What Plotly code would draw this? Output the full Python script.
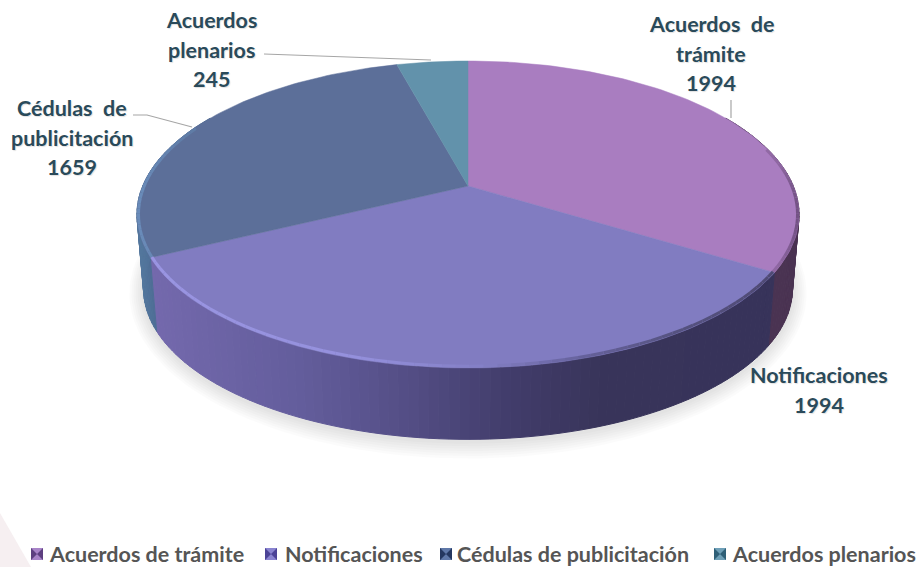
import numpy as np
import plotly.graph_objects as go

# --- data ---
categories = ["Acuerdos de trámite", "Notificaciones", "Cédulas de publicitación", "Acuerdos plenarios"]
values = [1994, 1994, 1659, 245]
label_lines = [["Acuerdos  de", "trámite"], ["Notificaciones"], ["Cédulas  de", "publicitación"], ["Acuerdos", "plenarios"]]

# --- styles ---
top_colors = ["#a97dc0", "#817cc1", "#5c6f99", "#6292ab"]
legend_dark = ["#5d3f80", "#4c4396", "#24375f", "#2f6078"]
legend_light = ["#a884c8", "#8a84d0", "#5f78a8", "#6fa0b8"]
label_color = "#2a4a5a"
legend_color = "#555555"
FONT = "Lato, Carlito, Calibri, sans-serif"

# --- perspective geometry of the disc (pixel canvas) ---
W, H = 919, 567
CX, CY, A, B, K = 468, 186, 325.3, 148.2, 0.1857
DEPTH, BOTTOM_SCALE = 75, 0.98


def project(theta, grow=0.0, scale=1.0, dy=0.0):
    t = np.radians(theta)
    u, v = np.sin(t), np.cos(t)
    w = 1 + K * v
    return CX + (A * scale + grow) * u / w, CY + dy - (B * scale + grow) * v / w


def hex_rgb(c):
    return np.array([int(c[i:i + 2], 16) for i in (1, 3, 5)], float)


def ramp(x, stops):
    xs = [s[0] for s in stops]
    chans = [np.interp(x, xs, [hex_rgb(s[1])[i] for s in stops]) for i in range(3)]
    return "rgb(%d,%d,%d)" % tuple(int(round(c)) for c in chans)


fractions = np.array(values) / sum(values)
edges = np.concatenate([[0], np.cumsum(fractions) * 360])

fig = go.Figure()


def poly(xs, ys, fill, line=None, width=0.0):
    fig.add_trace(go.Scatter(x=xs, y=ys, mode="lines", fill="toself", fillcolor=fill,
                             line=dict(color=line or fill, width=width),
                             hoverinfo="skip", showlegend=False))


# soft shadow below the disc
all_t = np.linspace(0, 360, 181)
for grow in range(14, 0, -2):
    x, y = project(all_t, grow=grow, scale=BOTTOM_SCALE, dy=DEPTH + 2)
    poly(x, y, "rgba(0,0,0,0.016)")

# side wall, shaded by horizontal position
wall_stops = [
    [(770, "#4a3352"), (800, "#4a3352")],
    [(150, "#7469ad"), (300, "#635d9c"), (400, "#554f87"), (500, "#433e6d"), (600, "#38345a"), (770, "#37335a")],
    [(138, "#55799f"), (155, "#4d6c94")],
    [(398, "#55799f"), (468, "#55799f")],
]
for i in range(3):
    lo, hi = edges[i], edges[i + 1]
    lo, hi = max(lo, 60), min(hi, 300)
    n = int(np.ceil((hi - lo) / 1.5))
    th = np.linspace(lo, hi, n + 1)
    for a, b in zip(th[:-1], th[1:]):
        seg = np.array([a, b])
        xt, yt = project(seg)
        xb, yb = project(seg[::-1], scale=BOTTOM_SCALE, dy=DEPTH)
        col = ramp((xt.mean() + xb.mean()) / 2, wall_stops[i])
        poly(np.r_[xt, xb, xt[0]], np.r_[yt, yb, yt[0]], col, col, 1)

# top faces: one wedge per value
for i, cat in enumerate(categories):
    th = np.linspace(edges[i], edges[i + 1], 90)
    x, y = project(th)
    fig.add_trace(go.Scatter(x=np.r_[CX, x, CX], y=np.r_[CY, y, CY], mode="lines", fill="toself",
                             fillcolor=top_colors[i], line=dict(color=top_colors[i], width=0.5),
                             name=cat, text=[f"{cat}: {values[i]}"] * 92, hoverinfo="text", showlegend=False))

# bevelled rim
rim_stops = [
    [(690, "#a97dc0"), (780, "#8d66a0"), (800, "#6f4f80")],
    [(150, "#9a95e2"), (350, "#9591dd"), (480, "#8480c6"), (580, "#66629c"), (680, "#55527f"), (770, "#4f4a74")],
    [(138, "#6a8cba"), (190, "#5f7ca6"), (300, "#5c6f99")],
]
for i in range(3):
    lo, hi = max(edges[i], 75), min(edges[i + 1], 295)
    th = np.linspace(lo, hi, int((hi - lo) / 2) + 2)
    for a, b in zip(th[:-1], th[1:]):
        x, y = project(np.array([a, b]), grow=-1.5)
        fig.add_trace(go.Scatter(x=x, y=y, mode="lines", hoverinfo="skip", showlegend=False,
                                 line=dict(color=ramp(x.mean(), rim_stops[i]), width=3)))

# legend row
legend_x = [37, 271, 446, 720]
legend_y = 554
for i, cat in enumerate(categories):
    fig.add_trace(go.Scatter(x=[legend_x[i]], y=[legend_y], mode="markers", hoverinfo="skip", showlegend=False,
                             marker=dict(symbol="square", size=12, color=legend_light[i], line=dict(width=0))))
    fig.add_trace(go.Scatter(x=[legend_x[i]], y=[legend_y], mode="markers", hoverinfo="skip", showlegend=False,
                             marker=dict(symbol="bowtie", size=12, color=legend_dark[i], line=dict(width=0))))

annotations = []
legend_text_x = [47, 282.5, 455, 730]
for i, cat in enumerate(categories):
    annotations.append(dict(x=legend_text_x[i], y=legend_y, text=cat, showarrow=False, xref="x", yref="y",
                            xanchor="left", yanchor="middle",
                            font=dict(family=FONT, size=21.5, color=legend_color, weight="bold")))

# data labels, one text line per row so the row pitch follows the reference
label_anchor = [(711, 24), (819, 375), (72, 108), (211, 20)]
LINE_STEP = 29.5
for i, lines in enumerate(label_lines):
    rows = lines + [str(values[i])]
    for j, row in enumerate(rows):
        annotations.append(dict(x=label_anchor[i][0], y=label_anchor[i][1] + j * LINE_STEP, text=row,
                                showarrow=False, xref="x", yref="y", xanchor="center", yanchor="middle",
                                font=dict(family=FONT, size=21.5, color=label_color, weight="bold",
                                          shadow="1px 1px 1px rgba(0,0,0,0.12)")))

shapes = [
    dict(type="path", path="M 0 513 L 31 567 L 0 567 Z", fillcolor="#f6eff1", line=dict(width=0),
         xref="x", yref="y", layer="below"),
    dict(type="path", path="M 264 54 L 431 60", line=dict(color="#a6a6a6", width=1.2), xref="x", yref="y"),
    dict(type="path", path="M 133 115 L 147 115 L 192 127", line=dict(color="#a6a6a6", width=1.2), xref="x", yref="y"),
    dict(type="path", path="M 731 100 L 731 118", line=dict(color="#a6a6a6", width=1.2), xref="x", yref="y"),
]

fig.update_layout(
    width=W, height=H, autosize=False,
    margin=dict(l=0, r=0, t=0, b=0),
    paper_bgcolor="white", plot_bgcolor="white",
    xaxis=dict(range=[0, W], visible=False, fixedrange=True),
    yaxis=dict(range=[H, 0], visible=False, fixedrange=True),
    showlegend=False, annotations=annotations, shapes=shapes,
)
fig.write_html("out.html", config={"displayModeBar": False},
               post_script="document.body.style.margin='0';document.documentElement.style.overflow='hidden';")
